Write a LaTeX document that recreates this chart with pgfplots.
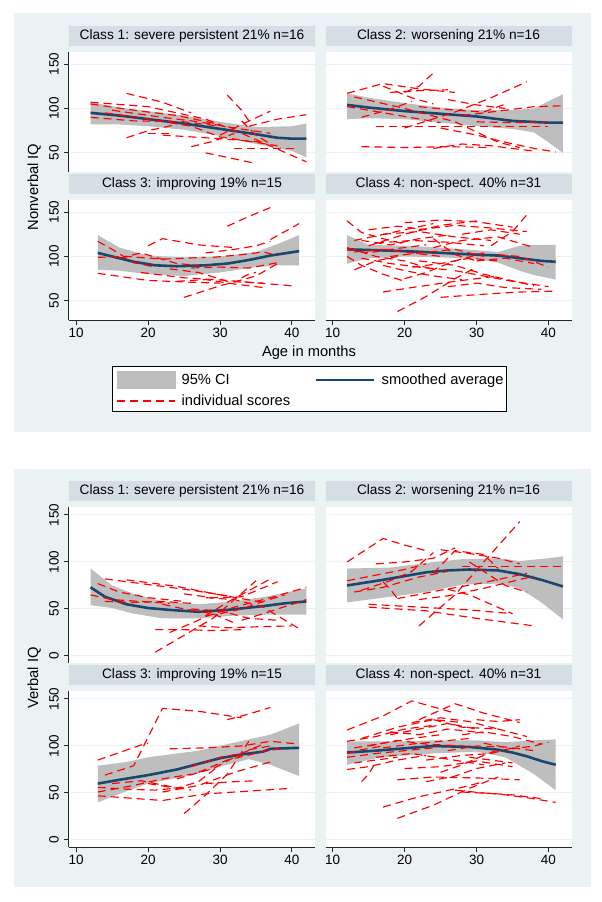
\documentclass[border=0pt]{standalone}
\usepackage{fontspec}
\setmainfont{Liberation Sans}
\usepackage{pgfplots}
\pgfplotsset{compat=1.18}
\definecolor{bgc}{RGB}{234,242,243}
\definecolor{titlec}{RGB}{213,222,229}
\definecolor{gridc}{RGB}{234,242,243}
\definecolor{ciGray}{RGB}{190,190,190}
\definecolor{navy}{RGB}{26,71,111}
\newcommand\ticksize{\fontsize{13.5}{14}\selectfont}
\newcommand\titlesize{\fontsize{13.7}{15}\selectfont}
\newcommand\labsize{\fontsize{14.7}{16}\selectfont}
\pgfplotsset{
  panel/.style={scale only axis, width=246pt, xmin=9, xmax=43.2, xtick={10,20,30,40},
    tick align=outside, major tick length=5pt, ymajorgrids,
    grid style={gridc, line width=1pt},
    axis background/.style={fill=white},
    axis line style={black!85, line width=1pt},
    tick style={black!85, line width=1pt},
    ticklabel style={font=\ticksize},
    /pgf/number format/assume math mode=true,
    title style={at={(0.5,1)}, anchor=south, fill=titlec, minimum width=246pt,
      minimum height=19.5pt, inner sep=0pt, font=\titlesize},
    xticklabel style={anchor=north, inner sep=0pt},
    xticklabel shift=3pt,
  },
  toppan/.style={height=120pt, ymin=28.5, ymax=163.5, ytick={50,100,150}},
  botpan/.style={height=156pt, ymin=-7.5, ymax=158.5, ytick={0,50,100,150}},
  leftcol/.style={axis y line*=left, yticklabel style={rotate=90, anchor=south, inner sep=0pt}, yticklabel shift=5pt},
  rightcol/.style={axis y line*=left, y axis line style={draw=none}, yticklabels={}, ytick style={draw=none}},
  toprow/.style={axis x line=none},
  botrow/.style={axis x line*=bottom},
  ind/.style={red, line width=1.15pt, dash pattern=on 8pt off 5pt},
  avg/.style={navy, line width=2.6pt},
  ci/.style={fill=ciGray, draw=none},
}
\newcommand\ind[1]{\addplot[ind] coordinates {#1};}
\begin{document}
\begin{tikzpicture}
\path[use as bounding box] (0pt,0pt) rectangle (602pt,-902pt);
\fill[bgc] (13.5pt,-12.7pt) rectangle (590.7pt,-431.7pt);
\fill[bgc] (13.5pt,-469.3pt) rectangle (590.7pt,-887pt);

% ================= TOP PANEL: Nonverbal IQ =================
\begin{axis}[panel, toppan, leftcol, toprow, at={(69pt,-52pt)}, anchor=north west,
  title={Class 1: severe persistent 21\% n=16}]
\addplot[ci] coordinates {(12,107) (16,101) (20,97) (25,92) (30,85) (35,79) (40,80) (42,83)
  (42,45) (40,52) (35,60) (30,69) (25,76) (20,80) (16,82) (12,82)};
\addplot[avg] coordinates {(12,95) (16,92) (20,88) (25,83) (30,77) (35,71) (38,67) (40,66) (42,66)};
\ind{(12,107) (20,102) (28,88) (33,72) (42,40)}
\ind{(12,90) (18,86) (25,85) (30,80)}
\ind{(17,117) (22,107) (26,95)}
\ind{(17,67) (20,75) (24,82)}
\ind{(31,115) (33,98) (34,86)}
\ind{(33,86) (35,70) (37,60)}
\ind{(28,50) (31,45) (35,38)}
\ind{(26,57) (29,63) (32,72)}
\ind{(20,72) (23,72)}
\ind{(30,70) (33,82) (37,97)}
\ind{(34,80) (38,88) (42,93)}
\ind{(32,55) (37,55) (41,55)}
\ind{(12,105) (18,98) (24,92) (30,82)}
\ind{(15,98) (22,90) (27,85) (32,78) (37,72)}
\ind{(22,70) (26,68) (30,66) (36,62)}
\ind{(14,95) (20,88) (26,80) (30,68) (34,63) (38,58)}
\end{axis}

\begin{axis}[panel, toppan, rightcol, toprow, at={(325.5pt,-52pt)}, anchor=north west,
  title={Class 2: worsening 21\% n=16}]
\addplot[ci] coordinates {(12,117) (15,112) (20,106) (25,101) (30,98) (35,98) (38,100) (40,108) (42,116)
  (42,50) (40,62) (38,73) (35,77) (30,80) (25,84) (20,88) (15,89) (12,88)};
\addplot[avg] coordinates {(12,104) (15,101) (20,97) (25,94) (30,91) (35,86) (40,84) (42,84)};
\ind{(12,117) (17,128) (22,122) (27,118)}
\ind{(13,113) (20,100) (27,85) (33,62) (36,56)}
\ind{(16,80) (24,80) (32,80) (40,80)}
\ind{(14,57) (20,56) (26,57) (32,56)}
\ind{(20,78) (27,96) (32,112) (37,130)}
\ind{(28,92) (34,98) (38,102) (42,103)}
\ind{(20,118) (22,125) (24,140)}
\ind{(17,125) (21,112) (24,105)}
\ind{(18,118) (22,120) (26,121)}
\ind{(22,102) (27,98) (31,96) (34,105)}
\ind{(25,78) (30,70) (34,62) (38,55) (41,51)}
\ind{(24,55) (28,60) (32,58) (38,52)}
\ind{(12,102) (15,98) (20,91) (25,84)}
\ind{(26,110) (30,104) (34,100)}
\ind{(14,90) (18,99) (21,108)}
\ind{(30,85) (35,84) (40,85)}
\end{axis}

\begin{axis}[panel, toppan, leftcol, botrow, at={(69pt,-200pt)}, anchor=north west,
  title={Class 3: improving 19\% n=15},
  legend style={at={(0.1748,-0.3833)}, anchor=north west, draw=black, line width=0.9pt, fill=white,
    inner xsep=4pt, inner ysep=4.5pt, font=\labsize, row sep=6pt,
    nodes={inner sep=0pt, anchor=west},
    /tikz/every odd column/.append style={column sep=6pt},
    /tikz/every even column/.append style={column sep=5.5pt}},
  legend columns=2, legend cell align=left]
\addlegendimage{legend image code/.code={\fill[ciGray] (0pt,-8.5pt) rectangle (58pt,8.5pt);}}
\addlegendentry{\makebox[128pt][l]{95\% CI}}
\addlegendimage{legend image code/.code={\draw[navy, line width=2.6pt] (0pt,0pt) -- (58pt,0pt);}}
\addlegendentry{\makebox[121pt][l]{smoothed average}}
\addlegendimage{legend image code/.code={\draw[draw=red, color=red, line width=1.15pt, dash pattern=on 8pt off 5pt] (0pt,0pt) -- (58pt,0pt);}}
\addlegendentry{individual scores}
\addplot[ci] coordinates {(13,124) (16,110) (20,101) (25,99) (30,100) (35,105) (38,114) (41,124)
  (41,90) (38,90) (35,88) (30,82) (25,78) (20,80) (16,84) (13,85)};
\addplot[avg] coordinates {(13,104) (15,100) (18,94) (21,90) (24,89) (28,90) (31,92) (34,96) (37,101) (41,106)};
\ind{(13,117) (15,108) (18,93) (21,88)}
\ind{(13,81) (20,73) (26,71) (30,70)}
\ind{(20,112) (22,120) (27,113) (32,110)}
\ind{(31,134) (34,145) (37,155)}
\ind{(37,119) (39,128) (41,137)}
\ind{(25,54) (30,67) (35,78) (38,92)}
\ind{(13,99) (17,100) (22,97) (28,99)}
\ind{(26,87) (30,88) (34,87) (38,93)}
\ind{(19,82) (25,76) (31,73) (40,67)}
\ind{(24,72) (28,74) (32,69) (36,65)}
\ind{(16,98) (19,104) (24,92) (27,90)}
\ind{(28,104) (32,108) (35,112) (37,117)}
\ind{(23,86) (27,82) (31,72) (36,70)}
\ind{(29,99) (33,102) (36,105) (38,101)}
\ind{(33,76) (34,80) (35,82)}
\end{axis}

\begin{axis}[panel, toppan, rightcol, botrow, at={(325.5pt,-200pt)}, anchor=north west,
  title={Class 4: non-spect. 40\% n=31}]
\addplot[ci] coordinates {(12,124) (15,113) (20,112) (25,110) (30,107) (33,105) (36,112) (38,113) (41,113)
  (41,74) (38,79) (36,84) (33,93) (30,97) (25,99) (20,100) (15,98) (12,92)};
\addplot[avg] coordinates {(12,108) (16,107) (20,106) (25,104) (30,102) (33,101) (36,98) (39,95) (41,94)};
\ind{(12,140) (14,127) (17,120) (20,114)}
\ind{(13,118) (16,123) (20,130) (24,137)}
\ind{(15,112) (20,125) (25,135) (30,140)}
\ind{(20,138) (25,141) (30,139) (35,133)}
\ind{(22,130) (27,135) (32,132) (37,128)}
\ind{(17,125) (22,128) (27,122) (32,118)}
\ind{(12,110) (16,100) (20,95) (24,85)}
\ind{(12,100) (14,90) (17,80) (20,72)}
\ind{(19,38) (23,55) (27,75) (30,88)}
\ind{(32,112) (35,128) (37,147)}
\ind{(17,60) (21,65) (27,72) (33,78)}
\ind{(25,54) (30,57) (36,60) (41,61)}
\ind{(27,84) (31,78) (35,72) (40,66)}
\ind{(22,95) (27,90) (31,80) (38,67)}
\ind{(13,105) (17,108) (21,104) (25,100)}
\ind{(14,98) (18,92) (22,88) (26,85)}
\ind{(16,115) (21,118) (26,116) (31,112)}
\ind{(24,110) (28,118) (33,122) (38,110)}
\ind{(12,108) (15,104) (19,109) (23,113)}
\ind{(18,100) (22,104) (27,108) (31,100)}
\ind{(28,125) (32,130) (36,125)}
\ind{(20,75) (23,82) (27,95) (31,104)}
\ind{(13,85) (16,95) (19,100)}
\ind{(26,66) (30,70) (34,65) (39,63)}
\ind{(30,95) (34,98) (38,92)}
\ind{(15,130) (19,134) (23,130)}
\ind{(21,88) (25,92) (29,98) (33,95)}
\ind{(14,118) (18,113) (22,120) (26,124)}
\ind{(33,102) (36,100) (40,88)}
\ind{(24,120) (27,102) (30,95)}
\ind{(17,90) (20,84) (24,78) (28,74)}
\end{axis}

\node[rotate=90, anchor=base, font=\labsize] at (38pt,-187pt) {Nonverbal IQ};
\node[anchor=base, font=\labsize] at (309pt,-356pt) {Age in months};

% ================= BOTTOM PANEL: Verbal IQ =================
\begin{axis}[panel, botpan, leftcol, toprow, at={(69pt,-507pt)}, anchor=north west,
  title={Class 1: severe persistent 21\% n=16}]
\addplot[ci] coordinates {(12,93) (13,87) (15,75) (18,66) (22,58) (27,55) (32,58) (37,64) (42,72)
  (42,44) (37,44) (32,43) (27,40) (22,40) (18,45) (15,51) (12,54)};
\addplot[avg] coordinates {(12,73) (14,63) (17,55) (20,51) (23,49) (27,47) (31,49) (36,53) (39,56) (42,58)};
\ind{(14,82) (20,76) (26,70) (31,64)}
\ind{(17,81) (24,74) (30,65) (36,57)}
\ind{(21,4) (25,22) (29,40) (35,80)}
\ind{(23,25) (27,38) (31,57) (37,82)}
\ind{(21,28) (25,28) (29,27) (33,28)}
\ind{(27,32) (31,30) (35,31) (40,32)}
\ind{(28,62) (32,60) (36,52) (41,29)}
\ind{(28,42) (32,52) (37,62) (42,73)}
\ind{(12,65) (15,60) (19,58) (23,56)}
\ind{(13,77) (16,68) (20,62) (25,58)}
\ind{(22,55) (25,50) (29,45) (32,35)}
\ind{(25,66) (29,62) (33,63) (38,79)}
\ind{(14,58) (18,57) (22,58) (26,56)}
\ind{(30,45) (33,50) (36,58) (39,65)}
\ind{(26,50) (30,48) (34,40) (38,38)}
\ind{(33,38) (36,45) (40,55) (42,60)}
\end{axis}

\begin{axis}[panel, botpan, rightcol, toprow, at={(325.5pt,-507pt)}, anchor=north west,
  title={Class 2: worsening 21\% n=16}]
\addplot[ci] coordinates {(12,93) (18,94) (23,99) (28,103) (33,104) (36,101) (40,104) (42,106)
  (42,39) (39,57) (36,72) (33,77) (28,76) (23,68) (18,63) (12,57)};
\addplot[avg] coordinates {(12,75) (17,81) (20,85) (23,89) (26,91) (29,92) (33,91) (36,87) (39,81) (42,74)};
\ind{(12,100) (17,125) (20,118) (23,112)}
\ind{(22,32) (27,65) (31,100) (36,143)}
\ind{(25,113) (29,109) (33,104) (36,98)}
\ind{(28,95) (33,95) (38,95) (42,95)}
\ind{(15,55) (22,52) (29,49) (35,45)}
\ind{(15,52) (23,48) (30,40) (38,32)}
\ind{(12,80) (16,86) (20,92) (23,98)}
\ind{(14,70) (18,80) (21,90) (24,110)}
\ind{(19,61) (25,70) (31,78) (37,88)}
\ind{(26,71) (29,65) (32,55) (35,45)}
\ind{(17,79) (18,71) (19,61)}
\ind{(13,68) (17,73) (22,84) (26,90)}
\ind{(22,60) (26,64) (31,72) (38,85)}
\ind{(24,88) (27,112) (31,108) (33,93)}
\ind{(16,98) (20,100) (24,104) (27,115)}
\ind{(29,100) (31,90) (34,75) (37,68)}
\end{axis}

\begin{axis}[panel, botpan, leftcol, botrow, at={(69pt,-691pt)}, anchor=north west,
  title={Class 3: improving 19\% n=15}]
\addplot[ci] coordinates {(13,79) (17,83) (20,88) (24,92) (27,95) (31,102) (34,107) (37,112) (39,118) (41,124)
  (41,68) (39,74) (37,80) (34,86) (31,80) (27,71) (24,66) (20,60) (17,52) (13,40)};
\addplot[avg] coordinates {(13,60) (16,64) (20,69) (24,75) (27,81) (30,87) (33,91) (36,94) (37,97) (41,98)};
\ind{(13,85) (16,93) (19,101) (20,103)}
\ind{(14,69) (18,79) (22,140) (27,137) (33,130)}
\ind{(31,128) (34,134) (37,141)}
\ind{(23,97) (28,98) (33,100) (37,105) (41,102)}
\ind{(25,28) (28,48) (31,70) (34,105)}
\ind{(13,51) (18,58) (22,65) (26,70)}
\ind{(13,47) (22,42) (28,49) (34,52) (40,55)}
\ind{(28,60) (32,62) (35,63)}
\ind{(22,51) (27,58) (32,72) (37,83)}
\ind{(24,65) (29,76) (34,96) (37,100)}
\ind{(27,72) (31,85) (36,94) (39,98)}
\ind{(13,56) (17,54) (21,53) (25,56)}
\ind{(20,60) (24,55) (27,62) (30,80)}
\ind{(26,78) (30,88) (33,92) (36,102)}
\ind{(15,60) (19,63) (23,57) (26,53)}
\end{axis}

\begin{axis}[panel, botpan, rightcol, botrow, at={(325.5pt,-691pt)}, anchor=north west,
  title={Class 4: non-spect. 40\% n=31}]
\addplot[ci] coordinates {(12,105) (16,105) (20,105) (24,106) (30,106) (34,104) (38,106) (41,107)
  (41,53) (38,70) (34,88) (30,94) (24,92) (20,90) (16,87) (12,80)};
\addplot[avg] coordinates {(12,93) (16,95) (20,97.5) (24,100) (29,99) (33,96) (35,93) (37,89) (39,84) (41,80)};
\ind{(12,117) (17,132) (21,148) (27,135)}
\ind{(22,128) (27,145) (31,135) (36,125)}
\ind{(12,105) (16,110) (20,118) (24,122)}
\ind{(14,108) (19,120) (24,128) (28,125)}
\ind{(18,115) (22,112) (26,118) (31,114)}
\ind{(24,128) (28,120) (33,118) (37,110)}
\ind{(13,98) (17,103) (21,108) (25,112)}
\ind{(12,88) (16,92) (20,95) (24,98)}
\ind{(12,75) (15,78) (19,85) (23,90)}
\ind{(14,62) (15,70) (16,83)}
\ind{(17,35) (22,46) (28,56) (31,62)}
\ind{(19,23) (24,37) (29,55) (33,67)}
\ind{(28,51) (33,49) (37,45) (41,40)}
\ind{(27,53) (31,50) (35,48) (39,44)}
\ind{(19,64) (24,67) (30,66) (36,64)}
\ind{(23,62) (27,68) (30,76) (34,82)}
\ind{(16,88) (21,92) (26,86) (31,80)}
\ind{(20,76) (25,78) (30,84) (35,78)}
\ind{(26,95) (30,100) (34,99) (38,95)}
\ind{(28,112) (31,115) (35,110) (39,102)}
\ind{(30,128) (33,126) (36,128)}
\ind{(15,100) (19,106) (23,102) (28,100)}
\ind{(21,125) (25,130) (29,126) (33,118)}
\ind{(12,92) (14,96) (17,100)}
\ind{(23,85) (28,90) (32,92) (36,100)}
\ind{(17,98) (21,102) (25,105) (29,108)}
\ind{(25,72) (28,80) (31,90) (33,96)}
\ind{(13,82) (16,85) (19,88)}
\ind{(31,103) (35,97) (38,100) (40,104)}
\ind{(18,112) (22,118) (26,124) (30,118)}
\ind{(29,88) (32,85) (35,82)}
\end{axis}

\node[rotate=90, anchor=base, font=\labsize] at (38pt,-678pt) {Verbal IQ};
\end{tikzpicture}
\end{document}
